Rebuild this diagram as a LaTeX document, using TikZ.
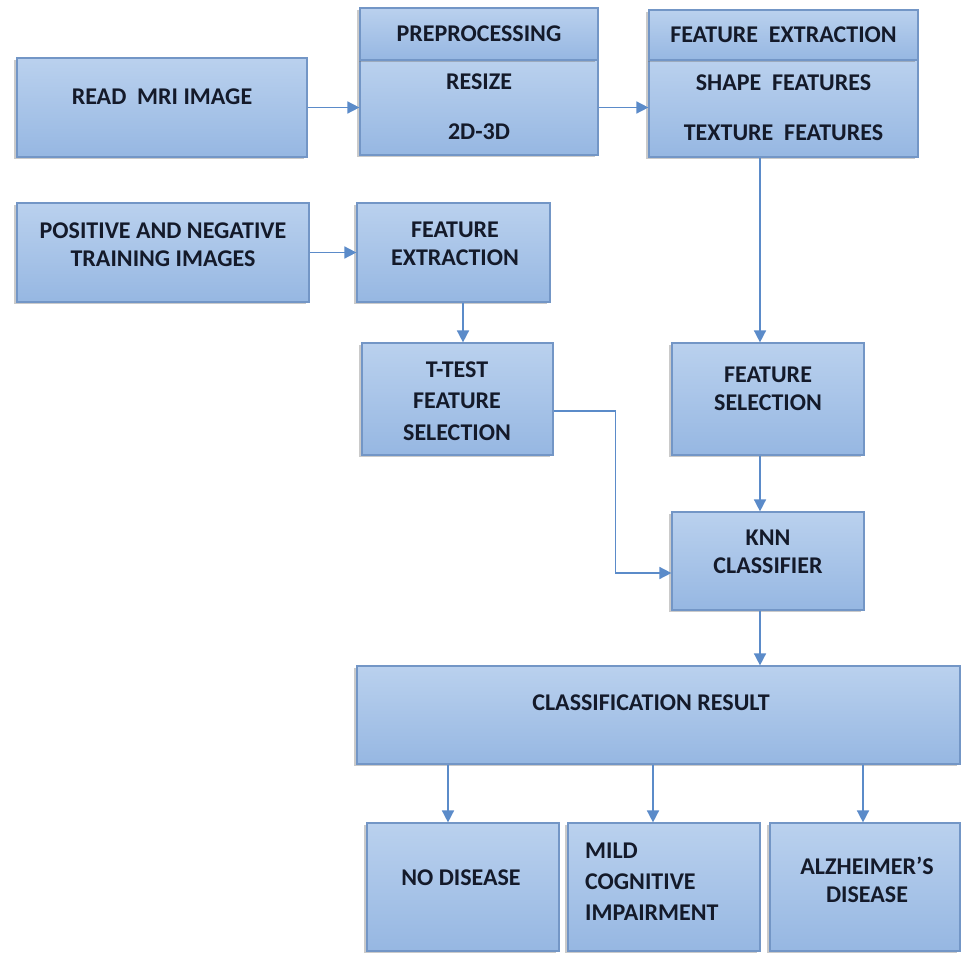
\documentclass[tikz,border=0pt]{standalone}
\usepackage{fontspec}
\setmainfont{Carlito}
\usetikzlibrary{arrows.meta,shadows}

\definecolor{boxtop}{HTML}{BAD1EE}
\definecolor{boxbot}{HTML}{96B7E2}
\definecolor{boxline}{HTML}{7396C6}
\definecolor{linkcol}{HTML}{5B8BC9}
\definecolor{ink}{HTML}{141A2A}

\begin{document}
\begin{tikzpicture}[x=1pt,y=-1pt,font=\fontsize{24}{28}\selectfont\bfseries,
  box/.style={draw=boxline, line width=1.2pt, top color=boxtop, bottom color=boxbot, inner sep=0pt,
    drop shadow={shadow xshift=-3pt, shadow yshift=-2pt, opacity=0.35, fill=black!60}},
  txt/.style={text=ink, align=center, inner sep=0pt},
  link/.style={draw=linkcol, line width=1.6pt, -{Triangle[length=12pt,width=12pt]}}]
\useasboundingbox (0,0) rectangle (961,953);

%top row
\node[box, minimum width=290pt, minimum height=99pt] (read) at (162,107.5) {};
\node[txt] (readt) at (162,97) {READ \ MRI IMAGE};

\node[box, minimum width=238pt, minimum height=95pt] (prebody) at (479,107.5) {};
\node[box, minimum width=238pt, minimum height=52pt, txt] (prehead) at (479,34) {PREPROCESSING};
\node[txt] (resize) at (479,82) {RESIZE};
\node[txt] (twod) at (479,132) {2D-3D};

\node[box, minimum width=269pt, minimum height=97pt] (febody) at (783.5,108.5) {};
\node[box, minimum width=269pt, minimum height=50pt, txt] (fehead) at (783.5,35) {FEATURE \ EXTRACTION};
\node[txt] (shape) at (783.5,83) {SHAPE \ FEATURES};
\node[txt] (texture) at (783.5,133) {TEXTURE \ FEATURES};

%training branch
\node[box, minimum width=292pt, minimum height=99pt] (pos) at (163,252.5) {};
\node[txt] (post) at (163,245) {POSITIVE AND NEGATIVE\\TRAINING IMAGES};

\node[box, minimum width=193pt, minimum height=99pt] (fext) at (453.5,252.5) {};
\node[txt] (fextt) at (455,244) {FEATURE\\EXTRACTION};

\node[box, minimum width=191pt, minimum height=112pt] (ttest) at (457.5,399) {};
\node[txt, font=\fontsize{24}{31.5}\selectfont\bfseries] (ttestt) at (457,401) {T-TEST\\FEATURE\\SELECTION};

%right column
\node[box, minimum width=192pt, minimum height=112pt] (fsel) at (768,399) {};
\node[txt] (fselt) at (768,389) {FEATURE\\SELECTION};

\node[box, minimum width=192pt, minimum height=98pt] (knn) at (768,561) {};
\node[txt] (knnt) at (768,552) {KNN\\CLASSIFIER};

\node[box, minimum width=603pt, minimum height=98pt] (cr) at (658.5,715) {};
\node[txt] (crt) at (651,703) {CLASSIFICATION RESULT};

%outcomes
\node[box, minimum width=192pt, minimum height=128pt] (nodis) at (463,887) {};
\node[txt] (nodist) at (461,878) {NO DISEASE};

\node[box, minimum width=192pt, minimum height=128pt] (mild) at (664,887) {};
\node[txt, align=left, anchor=west, font=\fontsize{24}{31}\selectfont\bfseries] (mildt) at (585,882) {MILD\\COGNITIVE\\IMPAIRMENT};

\node[box, minimum width=190pt, minimum height=128pt] (alz) at (865,887) {};
\node[txt] (alzt) at (867,880) {ALZHEIMER'S\\DISEASE};

%connectors
\draw[link] (read.east) -- (prebody.west);
\draw[link] (prebody.east) -- (prebody.east -| febody.west);
\draw[link] (pos.east) -- (fext.west);
\draw[link] (fext.south -| 463,0) -- (ttest.north -| 463,0);
\draw[link] (febody.south -| 760,0) -- (fsel.north -| 760,0);
\draw[link] (fsel.south -| 760,0) -- (knn.north -| 760,0);
\draw[link] (knn.south -| 760,0) -- (cr.north -| 760,0);
\draw[link] (ttest.east |- 0,411) -- ++(62,0) |- (knn.west |- 0,573);

\draw[link] (cr.south -| 448,0) -- (nodis.north -| 448,0);
\draw[link] (cr.south -| 653,0) -- (mild.north -| 653,0);
\draw[link] (cr.south -| 863,0) -- (alz.north -| 863,0);

\end{tikzpicture}
\end{document}
